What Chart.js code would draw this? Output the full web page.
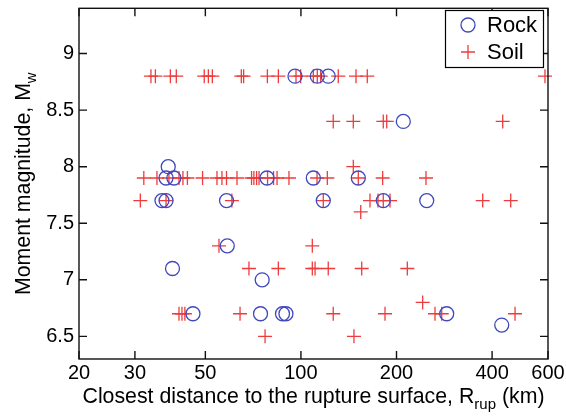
<!DOCTYPE html>
<html>
<head>
<meta charset="utf-8">
<script src="https://cdn.jsdelivr.net/npm/chart.js@4.4.1/dist/chart.umd.min.js"></script>
<style>
  html, body { margin: 0; padding: 0; background: #fff; }
  #wrap { width: 566px; height: 418px; position: relative; }
</style>
</head>
<body>
<div id="wrap"><canvas id="chart"></canvas></div>
<script>
// tick values
const xTicks = [20, 30, 50, 100, 200, 400, 600];
const yTicks = [6.5, 7, 7.5, 8, 8.5, 9];

// Rock sites: distance (km) / magnitude
const rockDist = [95.8, 112.6, 121.9, 210.1, 38.2, 37.6, 39.8, 78.2, 109.4, 151.6,
  36.5, 37.6, 58.3, 117.6, 181.7, 249.0, 58.6, 39.4, 75.5,
  45.7, 74.6, 87.5, 89.7, 287.8, 429.0];
const rockMag = [8.8, 8.8, 8.8, 8.4, 8.0, 7.9, 7.9, 7.9, 7.9, 7.9,
  7.7, 7.7, 7.7, 7.7, 7.7, 7.7, 7.3, 7.1, 7.0,
  6.7, 6.7, 6.7, 6.7, 6.7, 6.6];

// Soil sites
const soilDist = [
  33.7, 34.8, 38.8, 40.5, 49.6, 51.1, 52.6, 64.9, 66.0, 78.4, 84.9, 96.5, 99.8,
  109.4, 112.6, 115.4, 131.1, 149.1, 161.8, 587,
  126.4, 146.2, 181.7, 186.3, 432,
  146.2,
  32.0, 35.2, 38.4, 41.3, 42.5, 43.9, 49.0, 54.4, 56.4, 58.3, 62.9, 69.9, 71.1,
  72.5, 73.8, 78.5, 82.0, 84.1, 91.7, 112.4, 121.1, 151.6, 180.9, 247.7,
  31.2, 37.6, 60.6, 117.6, 165.0, 174.9, 181.7, 190.8, 373.7, 457.9,
  154.3,
  55.2, 108.6,
  68.6, 84.9, 108.6, 110.8, 121.9, 155.4, 216.3,
  241.8,
  41.3, 42.2, 43.1, 64.3, 126.4, 184.0, 264.4, 277.6, 472.4,
  77.1, 146.9];
const soilMag = [
  8.8, 8.8, 8.8, 8.8, 8.8, 8.8, 8.8, 8.8, 8.8, 8.8, 8.8, 8.8, 8.8,
  8.8, 8.8, 8.8, 8.8, 8.8, 8.8, 8.8,
  8.4, 8.4, 8.4, 8.4, 8.4,
  8.0,
  7.9, 7.9, 7.9, 7.9, 7.9, 7.9, 7.9, 7.9, 7.9, 7.9, 7.9, 7.9, 7.9,
  7.9, 7.9, 7.9, 7.9, 7.9, 7.9, 7.9, 7.9, 7.9, 7.9, 7.9,
  7.7, 7.7, 7.7, 7.7, 7.7, 7.7, 7.7, 7.7, 7.7, 7.7,
  7.6,
  7.3, 7.3,
  7.1, 7.1, 7.1, 7.1, 7.1, 7.1, 7.1,
  6.8,
  6.7, 6.7, 6.7, 6.7, 6.7, 6.7, 6.7, 6.7, 6.7,
  6.5, 6.5];

const FONT = '"Liberation Sans", Arial, Helvetica, sans-serif';
const rockColor = 'rgb(64, 72, 190)';
const soilColor = 'rgb(238, 60, 60)';

const toPoints = (xs, ys) => xs.map((v, i) => ({ x: v, y: ys[i] }));

// draws text pieces, some as subscripts, centred on (cx, cy)
function drawSubText(ctx, parts, cx, cy, size) {
  const subSize = Math.round(size * 0.72);
  let w = 0;
  parts.forEach(p => {
    ctx.font = (p.sub ? subSize : size) + 'px ' + FONT;
    w += ctx.measureText(p.t).width;
  });
  let x = cx - w / 2;
  ctx.textAlign = 'left';
  ctx.textBaseline = 'alphabetic';
  parts.forEach(p => {
    ctx.font = (p.sub ? subSize : size) + 'px ' + FONT;
    ctx.fillText(p.t, x, cy + size * 0.36 + (p.sub ? size * 0.3 : 0));
    x += ctx.measureText(p.t).width;
  });
}

const matlabAxes = {
  id: 'matlabAxes',
  afterDraw(chart) {
    const { ctx, chartArea: a, scales: { x, y } } = chart;
    ctx.save();
    ctx.strokeStyle = '#111';
    ctx.lineWidth = 1.4;
    ctx.strokeRect(a.left, a.top, a.right - a.left, a.bottom - a.top);
    ctx.beginPath();
    x.ticks.forEach(t => {
      const px = x.getPixelForValue(t.value);
      ctx.moveTo(px, a.bottom); ctx.lineTo(px, a.bottom - 8);
      ctx.moveTo(px, a.top); ctx.lineTo(px, a.top + 8);
    });
    y.ticks.forEach(t => {
      const py = y.getPixelForValue(t.value);
      ctx.moveTo(a.left, py); ctx.lineTo(a.left + 8, py);
      ctx.moveTo(a.right, py); ctx.lineTo(a.right - 8, py);
    });
    ctx.stroke();

    // axis titles
    ctx.fillStyle = '#000';
    drawSubText(ctx, [
      { t: 'Closest distance to the rupture surface, R' },
      { t: 'rup', sub: true },
      { t: ' (km)' }
    ], (a.left + a.right) / 2, 395, 21.3);
    ctx.save();
    ctx.translate(22, (a.top + a.bottom) / 2);
    ctx.rotate(-Math.PI / 2);
    drawSubText(ctx, [
      { t: 'Moment magnitude, M' },
      { t: 'w', sub: true }
    ], 0, 0, 21.3);
    ctx.restore();

    // legend box
    const lx = 445.5, ly = 10.5, lw = 98, lh = 57;
    ctx.fillStyle = '#fff';
    ctx.fillRect(lx, ly, lw, lh);
    ctx.lineWidth = 1.2;
    ctx.strokeStyle = '#000';
    ctx.strokeRect(lx, ly, lw, lh);
    ctx.lineWidth = 1.3;
    ctx.strokeStyle = rockColor;
    ctx.beginPath();
    ctx.arc(468, 25, 7, 0, Math.PI * 2);
    ctx.stroke();
    ctx.strokeStyle = soilColor;
    ctx.beginPath();
    ctx.moveTo(461, 52); ctx.lineTo(475, 52);
    ctx.moveTo(468, 45); ctx.lineTo(468, 59);
    ctx.stroke();
    ctx.fillStyle = '#000';
    ctx.font = '22px ' + FONT;
    ctx.textAlign = 'left';
    ctx.textBaseline = 'middle';
    ctx.fillText('Rock', 487, 26);
    ctx.fillText('Soil', 487, 53);
    ctx.restore();
  }
};

new Chart(document.getElementById('chart'), {
  type: 'scatter',
  data: {
    datasets: [
      {
        label: 'Rock',
        data: toPoints(rockDist, rockMag),
        pointStyle: 'circle',
        pointRadius: 7,
        pointHoverRadius: 7,
        borderColor: rockColor,
        backgroundColor: 'rgba(0,0,0,0)',
        pointBorderWidth: 1.3,
        clip: 10,
      },
      {
        label: 'Soil',
        data: toPoints(soilDist, soilMag),
        pointStyle: 'cross',
        pointRadius: 7,
        pointHoverRadius: 7,
        borderColor: soilColor,
        backgroundColor: soilColor,
        pointBorderWidth: 1.3,
        clip: 10,
      },
    ],
  },
  options: {
    responsive: true,
    maintainAspectRatio: false,
    animation: false,
    layout: { padding: { top: 5, right: 18, left: 0, bottom: 0 } },
    plugins: { legend: { display: false }, tooltip: { enabled: false } },
    scales: {
      x: {
        type: 'logarithmic',
        min: 20,
        max: 600,
        afterBuildTicks: (s) => { s.ticks = xTicks.map(v => ({ value: v })); },
        afterFit: (s) => { s.height = 59; s.paddingLeft = 0; s.paddingRight = 0; },
        grid: { display: false, drawTicks: false },
        border: { display: false },
        ticks: {
          color: '#000',
          font: { family: FONT, size: 20 },
          padding: 2,
          maxRotation: 0,
          autoSkip: false,
          callback: (v) => String(v),
        },
      },
      y: {
        type: 'linear',
        min: 6.3,
        max: 9.4,
        afterBuildTicks: (s) => { s.ticks = yTicks.map(v => ({ value: v })); },
        afterFit: (s) => { s.width = 79; s.paddingTop = 0; s.paddingBottom = 0; },
        grid: { display: false, drawTicks: false },
        border: { display: false },
        ticks: {
          color: '#000',
          font: { family: FONT, size: 20 },
          padding: 5,
          callback: (v) => String(v),
        },
      },
    },
  },
  plugins: [matlabAxes],
});
</script>
</body>
</html>
